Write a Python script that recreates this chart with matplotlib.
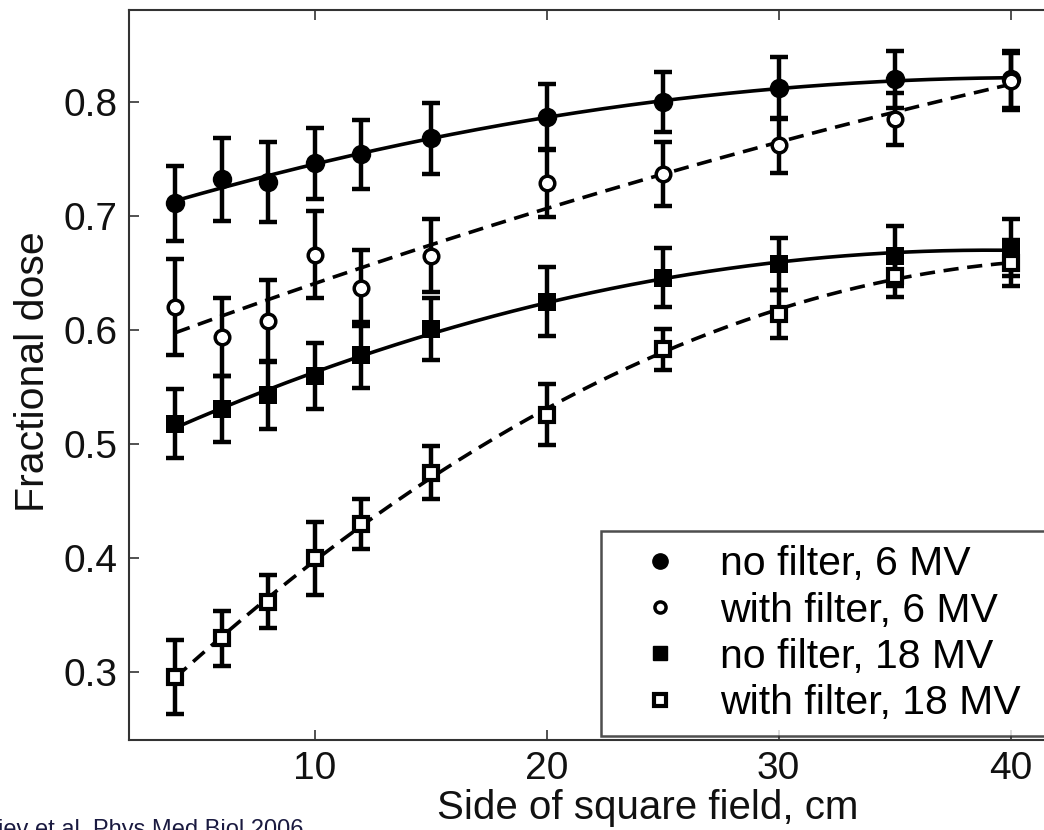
import numpy as np
import matplotlib
matplotlib.use('Agg')
import matplotlib.pyplot as plt
from matplotlib.lines import Line2D

# ---- data ----
field = [4, 6, 8, 10, 12, 15, 20, 25, 30, 35, 40]
nf6 = [0.711, 0.732, 0.730, 0.746, 0.754, 0.768, 0.787, 0.800, 0.812, 0.820, 0.820]
nf6_err = [0.033, 0.036, 0.035, 0.031, 0.030, 0.031, 0.029, 0.026, 0.027, 0.025, 0.025]
wf6 = [0.620, 0.594, 0.608, 0.666, 0.637, 0.665, 0.729, 0.737, 0.762, 0.785, 0.818]
wf6_err = [0.042, 0.034, 0.036, 0.038, 0.033, 0.032, 0.030, 0.028, 0.024, 0.023, 0.025]
nf18 = [0.518, 0.531, 0.543, 0.560, 0.578, 0.601, 0.625, 0.646, 0.658, 0.665, 0.672]
nf18_err = [0.030, 0.029, 0.030, 0.029, 0.029, 0.027, 0.030, 0.026, 0.023, 0.026, 0.025]
wf18 = [0.296, 0.330, 0.362, 0.400, 0.430, 0.475, 0.526, 0.583, 0.614, 0.647, 0.659]
wf18_err = [0.032, 0.024, 0.023, 0.032, 0.022, 0.023, 0.027, 0.018, 0.021, 0.018, 0.020]

labels = ['no filter, 6 MV', 'with filter, 6 MV', 'no filter, 18 MV', 'with filter, 18 MV']
xticks = [10, 20, 30, 40]
yticks = [0.3, 0.4, 0.5, 0.6, 0.7, 0.8]

plt.rcParams['font.family'] = ['Liberation Sans', 'DejaVu Sans']

W, H = 1044, 830
fig = plt.figure(figsize=(W / 100, H / 100), dpi=100)
ax = fig.add_axes([129 / W, 1 - 740 / H, (1057 - 129) / W, (740 - 10) / H])
ax.set_xlim(2, 42)
ax.set_ylim(0.2408, 0.8805)

series = [
    (nf6, nf6_err, 'o', 'k', 14, 0, '-'),
    (wf6, wf6_err, 'o', 'white', 10.5, 2.5, (0, (4.2, 2.4))),
    (nf18, nf18_err, 's', 'k', 12.5, 0, '-'),
    (wf18, wf18_err, 's', 'white', 9.5, 3.0, (0, (4.2, 2.4))),
]

xs = np.linspace(min(field), max(field), 300)
for y, e, m, fc, ms, mew, ls in series:
    coef = np.polyfit(field, y, 2)
    ax.plot(xs, np.polyval(coef, xs), color='k', lw=2.6, linestyle=ls, zorder=2)
for y, e, m, fc, ms, mew, ls in series:
    ax.errorbar(field, y, yerr=e, fmt='none', ecolor='k', elinewidth=3.2,
                capsize=6.5, capthick=3.2, zorder=3)
for y, e, m, fc, ms, mew, ls in series:
    ax.plot(field, y, linestyle='none', marker=m, markersize=ms,
            markerfacecolor=fc, markeredgecolor='k', markeredgewidth=mew, zorder=4)

ax.set_xticks(xticks)
ax.set_yticks(yticks)
ax.set_xticklabels([str(t) for t in xticks])
ax.set_yticklabels([f'{t:.1f}' for t in yticks])
ax.tick_params(direction='in', length=7, width=1.2, labelsize=28, pad=8,
               top=True, right=False, colors='#333333', labelcolor='#111111')
for s in ['left', 'bottom', 'top']:
    ax.spines[s].set_linewidth(1.5)
    ax.spines[s].set_color('#333333')
ax.spines['right'].set_visible(False)

handles = [
    Line2D([], [], linestyle='none', marker='o', markersize=11, markerfacecolor='k', markeredgecolor='k'),
    Line2D([], [], linestyle='none', marker='o', markersize=8, markerfacecolor='white', markeredgecolor='k', markeredgewidth=2.5),
    Line2D([], [], linestyle='none', marker='s', markersize=10, markerfacecolor='k', markeredgecolor='k'),
    Line2D([], [], linestyle='none', marker='s', markersize=9, markerfacecolor='white', markeredgecolor='k', markeredgewidth=3),
]
leg = fig.legend(handles, labels, loc='upper left',
                 bbox_to_anchor=(601 / W, 1 - 732 / H, (1070 - 601) / W, (732 - 531) / H),
                 mode='expand', fontsize=29.5, frameon=True, fancybox=False, borderpad=0.35,
                 labelspacing=0.2, handletextpad=0.35, handlelength=2.2, borderaxespad=0)
leg.get_frame().set_edgecolor('#222222')
leg.get_frame().set_linewidth(1.8)

fig.text(33 / W, 1 - 372 / H, 'Fractional dose', rotation=90, fontsize=29.5,
         ha='center', va='center', color='#111111')
fig.text(648 / W, 1 - 808 / H, 'Side of square field, cm', fontsize=29,
         ha='center', va='center', color='#111111')
fig.text(-2 / W, 1 - 836 / H, 'iev et al. Phys Med Biol 2006', fontsize=17,
         ha='left', va='baseline', color='#1a1a40')

fig.savefig('out.png', dpi=100)
